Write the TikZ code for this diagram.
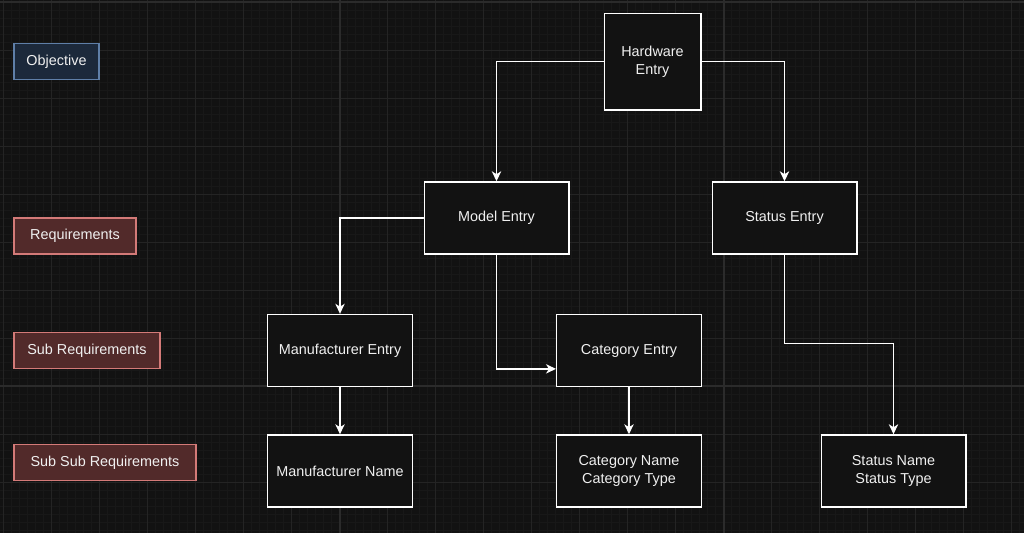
\documentclass[tikz,border=0pt]{standalone}
\usepackage{fontspec}
\setmainfont{Liberation Sans}
\usetikzlibrary{calc,arrows.meta}
\definecolor{achter}{HTML}{121212}
\definecolor{fijn}{HTML}{181818}
\definecolor{grof}{HTML}{242424}
\definecolor{extra}{HTML}{2B2B2B}
\definecolor{tekst}{HTML}{F0F0F0}
\definecolor{blauwvul}{HTML}{1C293B}
\definecolor{blauwrand}{HTML}{5F7FA8}
\definecolor{roodvul}{HTML}{522A2A}
\definecolor{roodrand}{HTML}{D47A78}
\begin{document}
\begin{tikzpicture}[x=0.75pt, y=-0.75pt, line cap=round,
  every node/.style={text=tekst, font=\fontsize{10.8}{13.5}\selectfont},
  blok/.style={draw=white, fill=achter, line width=1.1pt, minimum width=108.4pt, minimum height=54pt, align=center, inner sep=0pt},
  doel/.style={draw=blauwrand, fill=blauwvul, line width=1.1pt, minimum height=27pt, inner sep=0pt},
  eis/.style={draw=roodrand, fill=roodvul, line width=1.1pt, minimum height=27pt, inner sep=0pt},
  pijl/.style={draw=white, line width=1.1pt, -{Stealth[length=7.5pt, width=7pt, inset=2.2pt]}}]
  % achtergrond
  \useasboundingbox (0,0) rectangle (1024,532);
  \fill[achter] (-10,-10) rectangle (1034,542);
  % raster
  \foreach \x in {3,11,...,1019} \draw[fijn, line width=0.75pt] (\x,-10) -- (\x,542);
  \foreach \y in {2,10,...,530} \draw[fijn, line width=0.75pt] (-10,\y) -- (1034,\y);
  \foreach \x in {3,51,...,1011} \draw[grof, line width=0.75pt] (\x,-10) -- (\x,542);
  \foreach \y in {2,50,...,482} \draw[grof, line width=0.75pt] (-10,\y) -- (1034,\y);
  \foreach \x in {340,724} \draw[extra, line width=0.9pt] (\x,-10) -- (\x,542);
  \foreach \y in {2,386} \draw[extra, line width=0.9pt] (-10,\y) -- (1034,\y);

  % labels links
  \node[doel, minimum width=63.8pt] (objective) at (56.5,61.5) {Objective};
  \node[eis, minimum width=91.5pt] (req) at (75,236) {Requirements};
  \node[eis, minimum width=109.5pt] (subreq) at (87,350.5) {Sub Requirements};
  \node[eis, minimum width=136.5pt] (subsubreq) at (105,462.5) {Sub Sub Requirements};

  % blokken
  \node[blok, minimum width=72.4pt, minimum height=72.4pt] (hw) at (652.5,61.5) {Hardware\\Entry};
  \node[blok] (model) at (496.5,218) {Model Entry};
  \node[blok] (status) at (784.5,218) {Status Entry};
  \node[blok] (manu) at (340,350.5) {Manufacturer Entry};
  \node[blok] (cat) at (629,350.5) {Category Entry};
  \node[blok] (mname) at (340,471) {Manufacturer Name};
  \node[blok] (cname) at (629,471) {Category Name\\Category Type};
  \node[blok] (sname) at (893.5,471) {Status Name\\Status Type};

  % verbindingen
  \draw[pijl] (hw.west) -| (model.north);
  \draw[pijl] (hw.east) -| (status.north);
  \draw[pijl] (model.west) -| (manu.north);
  \draw[pijl] (model.south) |- ($(cat.south west)!0.25!(cat.north west)$);
  \draw[pijl] (status.south) |- ($(sname.north)+(0,-91)$) -- (sname.north);
  \draw[pijl] (manu.south) -- (mname.north);
  \draw[pijl] (cat.south) -- (cname.north);
\end{tikzpicture}
\end{document}
